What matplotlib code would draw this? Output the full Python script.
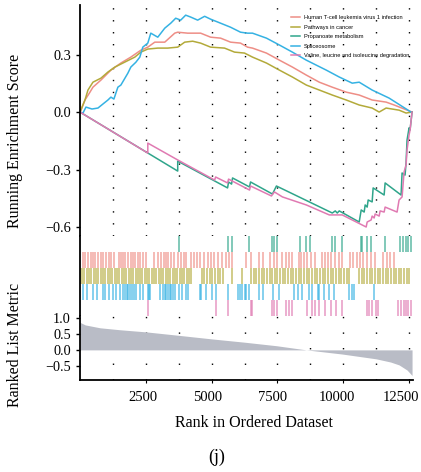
import numpy as np
import matplotlib.pyplot as plt
import matplotlib.transforms as mtransforms

plt.rcParams['font.family'] = 'Liberation Serif'

set_names = ['Human T-cell leukemia virus 1 infection', 'Pathways in cancer',
             'Propanoate metabolism', 'Spliceosome',
             'Valine, leucine and isoleucine degradation']
colors = ['#EE8E86', '#B3AA3A', '#2FA58B', '#35B2E3', '#E07AB2']

# running enrichment score curves (rank, score)
htlv_x = [0, 38, 189, 379, 492, 795, 1174, 1553, 1932, 2311, 2576, 2841, 3220, 3599, 3712,
          4091, 4583, 4962, 5341, 5720, 6099, 6364, 6553, 7083, 7576, 8068, 8598, 9091,
          9583, 10114, 10606, 11098, 11629, 11932, 12614]
htlv_y = [0, 0.010, 0.063, 0.104, 0.130, 0.167, 0.219, 0.256, 0.287, 0.323, 0.339, 0.365,
          0.365, 0.412, 0.417, 0.412, 0.412, 0.391, 0.386, 0.365, 0.360, 0.339, 0.334, 0.308,
          0.271, 0.235, 0.193, 0.156, 0.130, 0.104, 0.089, 0.063, 0.052, 0.037, 0]

cancer_x = [0, 189, 303, 492, 795, 1061, 1326, 1705, 2083, 2311, 2576, 2955, 3333, 3712,
            3977, 4280, 4583, 4962, 5492, 5871, 6250, 6553, 7083, 7576, 8068, 8598, 9091,
            9583, 10114, 10606, 11098, 11364, 11629, 12121, 12386, 12614]
cancer_y = [0, 0.063, 0.115, 0.156, 0.177, 0.209, 0.235, 0.261, 0.287, 0.313, 0.329, 0.334,
            0.334, 0.339, 0.365, 0.370, 0.360, 0.339, 0.334, 0.313, 0.308, 0.287, 0.256, 0.219,
            0.183, 0.141, 0.115, 0.089, 0.063, 0.037, 0.021, 0.0, 0.021, 0.010, -0.005, 0]

propanoate_x = [0, 3712, 3712, 5606, 5644, 5758, 5795, 6440, 6478, 7311, 7462, 9584, 9697,
                9773, 9848, 10606, 10682, 10795, 10833, 10909, 10947, 11098, 11136, 11553,
                11591, 12197, 12235, 12348, 12386, 12424, 12500, 12538, 12614]
propanoate_y = [0, -0.308, -0.256, -0.396, -0.365, -0.376, -0.344, -0.391, -0.365, -0.428,
                -0.386, -0.527, -0.516, -0.527, -0.516, -0.574, -0.511, -0.522, -0.485, -0.496,
                -0.459, -0.469, -0.396, -0.433, -0.370, -0.433, -0.318, -0.329, -0.266, -0.146,
                -0.083, -0.094, 0]

splice_x = [0, 114, 227, 455, 682, 871, 1061, 1174, 1288, 1439, 1553, 1818, 1932, 2121, 2273,
            2386, 2576, 2689, 2955, 3220, 3447, 3636, 3826, 4015, 4205, 4470, 4735, 4962,
            5341, 5720, 6099, 6364, 6553, 7083, 7576, 8068, 8598, 9356, 9848, 10341, 10606,
            11098, 11742, 12576]
splice_y = [0, -0.005, 0.026, 0.016, 0.021, 0.042, 0.063, 0.078, 0.068, 0.130, 0.141, 0.203,
            0.235, 0.260, 0.287, 0.339, 0.360, 0.412, 0.391, 0.438, 0.464, 0.490, 0.480, 0.506,
            0.496, 0.480, 0.500, 0.485, 0.464, 0.443, 0.417, 0.412, 0.412, 0.386, 0.350, 0.313,
            0.271, 0.219, 0.183, 0.151, 0.156, 0.115, 0.073, 0]

valine_x = [0, 2576, 2576, 3712, 5114, 5152, 5606, 5644, 6440, 6478, 7273, 7386, 7690, 8599,
            9470, 9962, 10871, 10909, 11061, 11098, 11174, 11212, 11364, 11402, 11553, 11591,
            12045, 12121, 12235, 12311, 12386, 12424, 12500, 12538, 12614]
valine_y = [0, -0.214, -0.162, -0.250, -0.355, -0.339, -0.370, -0.350, -0.407, -0.386, -0.438,
            -0.417, -0.443, -0.485, -0.537, -0.537, -0.600, -0.574, -0.563, -0.543, -0.553,
            -0.532, -0.543, -0.516, -0.522, -0.496, -0.522, -0.459, -0.443, -0.313, -0.276,
            -0.198, -0.120, -0.094, 0]

# gene hit positions for the rug
htlv_hits = [114, 202, 303, 404, 493, 581, 682, 783, 871, 998, 1086, 1187, 1288, 1465, 1541,
             1629, 1718, 1819, 1920, 2008, 2097, 2198, 2298, 2387, 2513, 2804, 2955, 3082,
             3183, 3271, 3360, 3461, 3587, 3713, 3840, 3941, 4029, 4218, 4345, 4446, 4572,
             4698, 4850, 4976, 5103, 5229, 5380, 5544, 5671, 5759, 6302, 6492, 6808, 6934,
             7224, 7376, 7477, 7691, 7818, 7944, 8070, 8323, 8411, 8512, 8639, 8765, 8917,
             9207, 9296, 9422, 9548, 9675, 9839, 9965, 10255, 10382, 10508, 10634, 10761,
             10912, 11039, 11190, 11519, 11645, 11771, 11923]
cancer_hits = [10, 76, 164, 253, 341, 429, 518, 606, 695, 783, 872, 960, 1048, 1137, 1225,
               1313, 1402, 1490, 1579, 1667, 1756, 1844, 1932, 2021, 2109, 2198, 2286, 2374,
               2463, 2551, 2640, 2728, 2817, 2905, 2993, 3082, 3170, 3259, 3347, 3435, 3524,
               3612, 3701, 3789, 3877, 3966, 4054, 4143, 4231, 4622, 4723, 4824, 4925, 5027,
               5128, 5229, 5330, 5431, 5759, 6138, 6492, 6593, 6694, 6795, 6896, 6997, 7098,
               7199, 7300, 7401, 7502, 7603, 7704, 7805, 7906, 8007, 8108, 8209, 8311, 8411,
               8513, 8614, 8715, 8816, 8917, 9018, 9119, 9220, 9321, 9422, 9523, 9624, 9725,
               9826, 9927, 10028, 10129, 10230, 10596, 10697, 10798, 10899, 11000, 11101,
               11202, 11304, 11405, 11506, 11607, 11708, 11809, 11910, 12011, 12112, 12213,
               12314, 12415, 12516]
propanoate_hits = [3750, 5625, 5784, 6413, 7299, 7386, 7474, 8371, 8587, 8750, 9572, 9697,
                   9962, 10682, 10731, 10898, 11050, 11591, 12171, 12273, 12375, 12462, 12564]
splice_hits = [125, 254, 481, 655, 860, 947, 1110, 1239, 1364, 1515, 1640, 1705, 1769, 1830,
               1894, 1958, 2046, 2121, 2273, 2375, 2587, 2625, 2678, 3057, 3155, 3220, 3284,
               3345, 3409, 3473, 3534, 3599, 3761, 3890, 4042, 4102, 4546, 4610, 4799, 5027,
               5152, 5617, 5996, 6061, 6163, 6250, 6314, 6413, 6818, 6970, 7322, 7576, 8144,
               8269, 8436, 8712, 8815, 9027, 9091, 9281, 9470, 9659, 10227, 10330, 10417, 11174]
valine_hits = [2587, 5152, 5617, 6478, 6553, 7299, 7387, 7500, 7830, 7955, 8068, 8637, 8807,
               8940, 9091, 9318, 9546, 9735, 9943, 10890, 10985, 11110, 11239, 11326, 12083,
               12197, 12292, 12367, 12462, 12565]

# ranked list metric
rank_x = [0, 200, 760, 1500, 2538, 3800, 5038, 6250, 7462, 8598, 9962, 11250, 11800, 12121,
          12424, 12614]
rank_y = [0.86, 0.78, 0.69, 0.63, 0.56, 0.45, 0.34, 0.24, 0.13, 0.0, -0.13, -0.28, -0.38,
          -0.47, -0.63, -0.80]

x_ticks = [2500, 5000, 7500, 10000, 12500]

fig = plt.figure(figsize=(4.21, 4.72), dpi=100)
ax1 = fig.add_axes([0.19, 0.5, 0.791, 0.489])
ax2 = fig.add_axes([0.19, 0.3305, 0.791, 0.1695], sharex=ax1)
ax3 = fig.add_axes([0.19, 0.195, 0.791, 0.1356], sharex=ax1)

curves = [(htlv_x, htlv_y), (cancer_x, cancer_y), (propanoate_x, propanoate_y),
          (splice_x, splice_y), (valine_x, valine_y)]
for (xs, ys), c, name in zip(curves, colors, set_names):
    ax1.plot(xs, ys, color=c, lw=1.1, label=name)

ax1.set_ylim(-0.647, 0.558)
ax1.set_yticks([-0.6, -0.3, 0.0, 0.3])
ax1.set_yticklabels(['\u22120.6', '\u22120.3', '0.0', '0.3'])
ax1.set_ylabel('Running Enrichment Score', fontsize=11.5)
ax1.yaxis.set_label_coords(-0.17, 0.41)
leg = ax1.legend(loc='upper right', bbox_to_anchor=(0.993, 0.962), frameon=False,
                 prop={'family': 'Liberation Sans', 'size': 4.1}, handlelength=1.6,
                 handletextpad=0.7, labelspacing=0.8, borderaxespad=0, borderpad=0.2)

# rug rows: top to bottom
rug = [(propanoate_hits, colors[2]), (htlv_hits, colors[0]), (cancer_hits, colors[1]),
       (splice_hits, colors[3]), (valine_hits, colors[4])]
for i, (hits, c) in enumerate(rug):
    ax2.vlines(hits, 4 - i, 5 - i, color=c, lw=1.3, alpha=0.65)
ax2.set_ylim(0, 5)
ax2.set_yticks([])

ax3.fill_between(rank_x, rank_y, 0, color='#B9BCC6', lw=0)
ax3.set_ylim(-0.94, 1.06)
ax3.set_yticks([-0.5, 0.0, 0.5, 1.0])
ax3.set_yticklabels(['\u22120.5', '0.0', '0.5', '1.0'])
ax3.set_ylabel('Ranked List Metric', fontsize=11.5)
ax3.yaxis.set_label_coords(-0.17, 0.55)
ax3.set_xlabel('Rank in Ordered Dataset', fontsize=11.5)
ax3.xaxis.set_label_coords(0.523, -0.55)

ax1.set_xlim(0, 12650)
ax3.set_xticks(x_ticks)
ax3.set_xticks(np.arange(1250, 12600, 1250), minor=True)

for ax in (ax1, ax2, ax3):
    for s in ('top', 'right', 'bottom'):
        ax.spines[s].set_visible(False)
    ax.spines['left'].set_linewidth(1.3)
    ax.tick_params(axis='x', which='both', length=0, labelbottom=False)
    ax.tick_params(axis='y', labelsize=10.3, length=3, width=1)
ax3.spines['bottom'].set_visible(True)
ax3.spines['bottom'].set_linewidth(1.3)
ax3.tick_params(axis='x', which='major', labelbottom=True, labelsize=10.5, length=2, pad=6)

# nudge the rank labels left a little, as in the source figure
shifts = [-2.5, -4, -5, -6.5, -8]
for lab, dx in zip(ax3.get_xticklabels(), shifts):
    lab.set_transform(lab.get_transform() + mtransforms.ScaledTranslation(dx / 100, 0, fig.dpi_scale_trans))

ax1.grid(True, which='both', axis='x', color='black', lw=1.0, linestyle=(0, (1, 7.6)))
ax3.grid(True, which='both', axis='x', color='black', lw=1.0, linestyle=(0, (1, 10.2)))
ax1.set_axisbelow(True)
ax3.set_axisbelow(True)

fig.text(0.515, 0.032, '(j)', ha='center', va='center', fontsize=13)

fig.savefig('out.png', dpi=100)
